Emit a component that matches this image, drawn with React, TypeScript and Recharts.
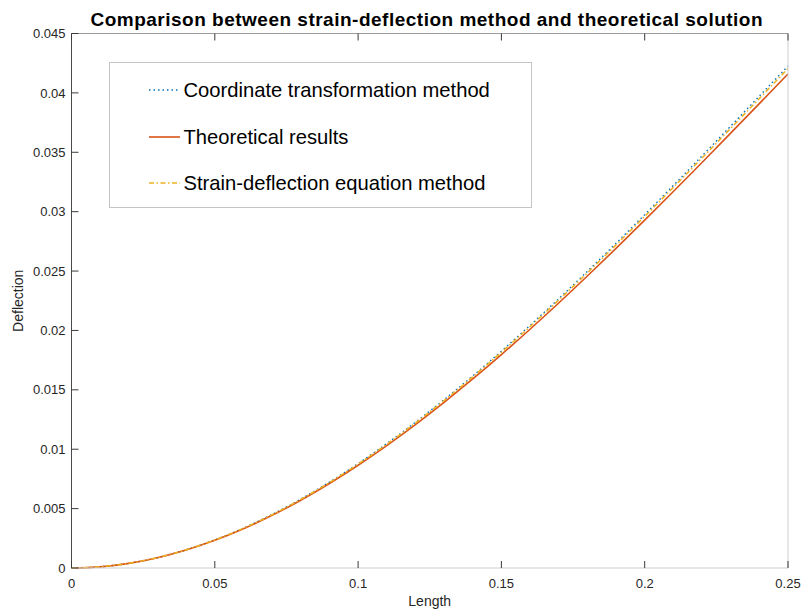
import React from 'react';
import { LineChart, Line, XAxis, YAxis, Label, Legend } from 'recharts';

const lengths = [0, 0.01, 0.02, 0.03, 0.04, 0.05, 0.06, 0.07, 0.08, 0.09, 0.1, 0.11, 0.12, 0.13, 0.14, 0.15, 0.16, 0.17, 0.18, 0.19, 0.2, 0.21, 0.22, 0.23, 0.24, 0.25];

const coordinateTransformation = [0, 0.0001, 0.000395, 0.000876, 0.001536, 0.002366, 0.003359, 0.004506, 0.005798, 0.00723, 0.00879, 0.010472, 0.012268, 0.014169, 0.016168, 0.018256, 0.020425, 0.022667, 0.024974, 0.027338, 0.029751, 0.032203, 0.034689, 0.037199, 0.039725, 0.04226];

const theoretical = [0, 0.0000985, 0.000389, 0.000862, 0.001512, 0.002329, 0.003306, 0.004435, 0.005707, 0.007116, 0.008652, 0.010307, 0.012075, 0.013946, 0.015913, 0.017969, 0.020103, 0.02231, 0.024581, 0.026907, 0.029282, 0.031696, 0.034143, 0.036613, 0.039099, 0.041594];

const strainDeflection = [0, 0.0000996, 0.000393, 0.000871, 0.001529, 0.002355, 0.003342, 0.004484, 0.00577, 0.007194, 0.008747, 0.01042, 0.012208, 0.014099, 0.016088, 0.018167, 0.020324, 0.022555, 0.024851, 0.027203, 0.029604, 0.032045, 0.034519, 0.037016, 0.039529, 0.042052];

const xTicks = [0, 0.05, 0.1, 0.15, 0.2, 0.25];
const yTicks = [0, 0.005, 0.01, 0.015, 0.02, 0.025, 0.03, 0.035, 0.04, 0.045];

const titleText = 'Comparison between strain-deflection method and theoretical solution';
const xLabel = 'Length';
const yLabel = 'Deflection';

const series = [
  { key: 'coord', name: 'Coordinate transformation method', color: '#0072BD', dash: '1.5 3', width: 1.4 },
  { key: 'theory', name: 'Theoretical results', color: '#D95319', dash: undefined as string | undefined, width: 1.6 },
  { key: 'strain', name: 'Strain-deflection equation method', color: '#EDB120', dash: '5 2.5 1.5 2.5', width: 1.5 },
];

const rows = lengths.map((x, i) => ({
  x,
  coord: coordinateTransformation[i],
  theory: theoretical[i],
  strain: strainDeflection[i],
}));

const FONT = '"Liberation Sans", Arial, Helvetica, sans-serif';
const TEXT = '#262626';
const TICK = '#3a3a3a';
const TL = 7;

const fmt = (v: number) => String(+(+v).toFixed(3));

const BottomTick = (p: any) => (
  <g>
    <line x1={p.x} x2={p.x} y1={p.y} y2={p.y - TL} stroke={TICK} strokeWidth={1} />
    <text x={p.x} y={p.y + 20} textAnchor="middle" fill={TEXT} fontSize={13} fontFamily={FONT}>
      {fmt(p.payload.value)}
    </text>
  </g>
);

const TopTick = (p: any) => (
  <line x1={p.x} x2={p.x} y1={p.y} y2={p.y + TL} stroke={TICK} strokeWidth={1} />
);

const LeftTick = (p: any) => (
  <g>
    <line x1={p.x} x2={p.x + TL} y1={p.y} y2={p.y} stroke={TICK} strokeWidth={1} />
    <text x={p.x - 6} y={p.y} dy="0.355em" textAnchor="end" fill={TEXT} fontSize={13} fontFamily={FONT}>
      {fmt(p.payload.value)}
    </text>
  </g>
);

const RightTick = (p: any) => (
  <line x1={p.x} x2={p.x - TL} y1={p.y} y2={p.y} stroke={TICK} strokeWidth={1} />
);

const LegendBox = () => (
  <div
    style={{
      width: 423,
      height: 146,
      boxSizing: 'border-box',
      border: '1px solid #c4c4c4',
      background: '#fff',
      fontFamily: FONT,
      position: 'relative',
    }}
  >
    {series.map((s, i) => (
      <div
        key={s.key}
        style={{
          position: 'absolute',
          left: 39,
          top: 27 + i * 46.5 - 13,
          height: 26,
          display: 'flex',
          alignItems: 'center',
        }}
      >
        <svg width={31} height={26} style={{ display: 'block' }}>
          <line x1={0} x2={31} y1={13} y2={13} stroke={s.color} strokeWidth={s.width} strokeDasharray={s.dash} />
        </svg>
        <span style={{ marginLeft: 4, fontSize: 20.2, color: '#000', whiteSpace: 'nowrap', lineHeight: '26px' }}>{s.name}</span>
      </div>
    ))}
  </div>
);

export default function App() {
  return (
    <div style={{ position: 'absolute', left: 0, top: 0, width: 802, height: 609, background: '#fff' }}>
      <LineChart
        width={802}
        height={609}
        data={rows}
        margin={{ top: 0, right: 0, bottom: 0, left: 0 }}
        style={{ fontFamily: FONT }}
      >
        <XAxis
          dataKey="x"
          type="number"
          domain={[0, 0.25]}
          ticks={xTicks}
          height={41}
          tickSize={0}
          tickMargin={0}
          axisLine={{ stroke: '#cdcdcd', strokeWidth: 1 }}
          tickLine={false}
          tick={<BottomTick />}
          interval={0}
        >
          <Label value={xLabel} position="insideBottom" offset={3} style={{ fill: TEXT, fontSize: 14, fontFamily: FONT }} />
        </XAxis>
        <XAxis
          xAxisId="top"
          orientation="top"
          dataKey="x"
          type="number"
          domain={[0, 0.25]}
          ticks={xTicks}
          height={33.5}
          tickSize={0}
          tickMargin={0}
          axisLine={{ stroke: '#9a9a9a', strokeWidth: 1 }}
          tickLine={false}
          tick={<TopTick />}
          interval={0}
        >
          <Label
            value={titleText}
            position="insideTop"
            offset={12.5}
            dx={-3}
            style={{ fill: '#000', fontSize: 19, fontWeight: 'bold', fontFamily: FONT, letterSpacing: '0.5px' }}
          />
        </XAxis>
        <YAxis
          type="number"
          domain={[0, 0.045]}
          ticks={yTicks}
          width={71.5}
          tickSize={0}
          tickMargin={0}
          axisLine={{ stroke: '#4a4a4a', strokeWidth: 1 }}
          tickLine={false}
          tick={<LeftTick />}
          interval={0}
        >
          <Label value={yLabel} angle={-90} position="insideLeft" offset={18} style={{ fill: TEXT, fontSize: 14, fontFamily: FONT, textAnchor: 'middle' }} />
        </YAxis>
        <YAxis
          yAxisId="right"
          orientation="right"
          type="number"
          domain={[0, 0.045]}
          ticks={yTicks}
          width={14}
          tickSize={0}
          tickMargin={0}
          axisLine={{ stroke: '#cdcdcd', strokeWidth: 1 }}
          tickLine={false}
          tick={<RightTick />}
          interval={0}
        />
        {series.map((s) => (
          <Line
            key={s.key}
            dataKey={s.key}
            name={s.name}
            type="monotone"
            stroke={s.color}
            strokeWidth={s.width}
            strokeDasharray={s.dash}
            dot={false}
            activeDot={false}
            isAnimationActive={false}
          />
        ))}
        <Legend
          layout="horizontal"
          verticalAlign="middle"
          align="center"
          content={() => <LegendBox />}
          wrapperStyle={{ position: 'absolute', left: 108.5, top: 62, width: 423, height: 146 }}
        />
      </LineChart>
    </div>
  );
}
